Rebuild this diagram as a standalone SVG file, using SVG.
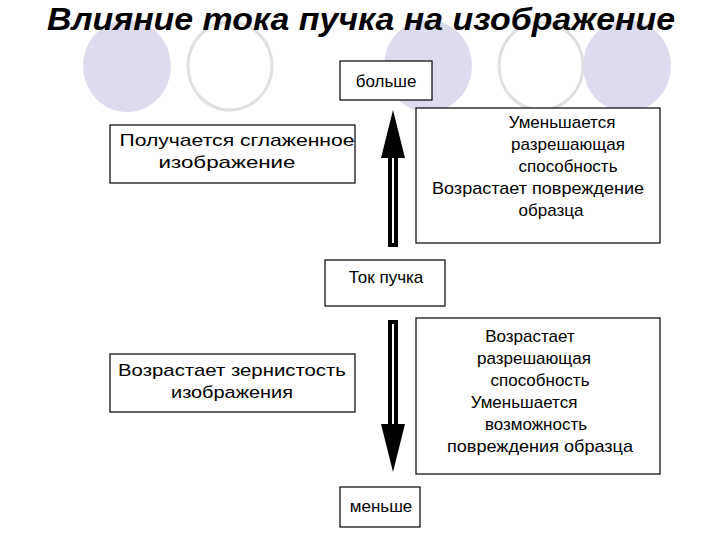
<svg xmlns="http://www.w3.org/2000/svg" width="720" height="540" viewBox="0 0 720 540">
<style>
.f{fill:#dcdcee}
.o{fill:#fff;stroke:#e0e0e0;stroke-width:3}
.b{fill:#fff;stroke:#000;stroke-width:1.2}
.t{font-family:"Liberation Sans",Arial,sans-serif;font-size:17px;fill:#000;text-anchor:middle}
.a{fill:#fff;stroke:#000;stroke-width:4;stroke-linejoin:miter}
.h{fill:#000}
</style>
<rect width="720" height="540" fill="#fff"/>
<g id="bg">
<ellipse class="f" cx="127" cy="66" rx="44" ry="46"/>
<ellipse class="o" cx="230" cy="66" rx="42" ry="44"/>
<ellipse class="f" cx="428" cy="66" rx="44" ry="46"/>
<ellipse class="o" cx="541" cy="66" rx="42" ry="44"/>
<ellipse class="f" cx="627" cy="66" rx="44" ry="46"/>
</g>
<text x="361" y="30" font-family="Liberation Sans,Arial,sans-serif" font-size="32" font-weight="bold" font-style="italic" text-anchor="middle" textLength="628" lengthAdjust="spacingAndGlyphs">Влияние тока пучка на изображение</text>
<g id="connectors">
<polygon class="a" points="390,245 390,152 396,152 396,245"/>
<polygon class="h" points="381,158 393,110 405,158"/>
<polygon class="a" points="390,322 396,322 396,428 390,428"/>
<polygon class="h" points="381,424 405,424 393,472"/>
</g>
<g id="more"><rect class="b" x="340" y="61" width="92" height="39"/><text class="t" x="386" y="87">больше</text></g>
<g id="smooth"><rect class="b" x="110" y="125" width="245" height="58"/><text class="t" x="237" y="146" textLength="235" lengthAdjust="spacingAndGlyphs">Получается сглаженное</text><text class="t" x="227" y="168" textLength="137" lengthAdjust="spacingAndGlyphs">изображение</text></g>
<g id="resdown"><rect class="b" x="416" y="108" width="244" height="135"/>
<text class="t" x="562" y="128">Уменьшается</text><text class="t" x="568" y="150">разрешающая</text><text class="t" x="568" y="172">способность</text><text class="t" x="538" y="194" textLength="212" lengthAdjust="spacingAndGlyphs">Возрастает повреждение</text><text class="t" x="551" y="216">образца</text></g>
<g id="current"><rect class="b" x="325" y="260" width="120" height="46"/><text class="t" x="386" y="283">Ток пучка</text></g>
<g id="grain"><rect class="b" x="110" y="354" width="245" height="58"/><text class="t" x="232" y="376" textLength="228" lengthAdjust="spacingAndGlyphs">Возрастает зернистость</text><text class="t" x="232" y="398" textLength="122" lengthAdjust="spacingAndGlyphs">изображения</text></g>
<g id="resup"><rect class="b" x="416" y="318" width="244" height="156"/>
<text class="t" x="530" y="342">Возрастает</text><text class="t" x="534" y="364">разрешающая</text><text class="t" x="540" y="386">способность</text><text class="t" x="524" y="408">Уменьшается</text><text class="t" x="536" y="430">возможность</text><text class="t" x="540" y="452" textLength="186" lengthAdjust="spacingAndGlyphs">повреждения образца</text></g>
<g id="less"><rect class="b" x="340" y="487" width="80" height="40"/><text class="t" x="381" y="512">меньше</text></g>
</svg>
